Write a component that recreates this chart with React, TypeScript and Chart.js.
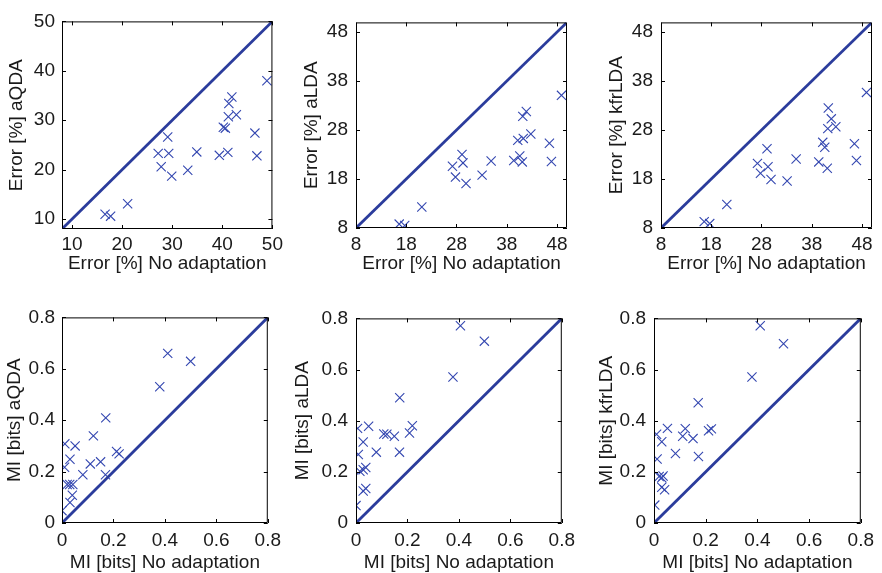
import React, { useEffect, useRef } from 'react';
import { Chart, registerables } from 'chart.js';
Chart.register(...registerables);

// ---- data ----
const errRange = [8, 50];
const miRange = [0, 0.8];
const errTicksA = [10, 20, 30, 40, 50];
const errTicksB = [8, 18, 28, 38, 48];
const miTicks = [0, 0.2, 0.4, 0.6, 0.8];

const errNoAdapt = [16.6, 17.7, 21.1, 27.2, 27.8, 29.1, 29.3, 29.9, 33.1, 34.9, 39.4, 40.2, 40.6, 41.1, 41.2, 41.3, 41.9, 42.8, 46.5, 46.9, 48.9];
const errAqda = [11.0, 10.6, 13.1, 23.3, 20.6, 26.6, 23.3, 18.7, 19.9, 23.6, 22.9, 28.6, 28.4, 23.5, 30.7, 33.4, 34.7, 31.1, 27.4, 22.8, 38.0];
const errAlda = [8.8, 8.5, 12.3, 20.6, 18.4, 23.0, 21.3, 17.1, 18.8, 21.7, 21.8, 25.9, 22.7, 21.5, 30.8, 26.3, 31.8, 27.2, 25.3, 21.6, 35.1];
const errKfrlda = [9.3, 8.9, 12.8, 21.2, 19.2, 24.2, 20.5, 17.9, 17.6, 22.1, 21.5, 25.5, 24.5, 20.2, 28.3, 32.5, 30.3, 28.7, 25.2, 21.8, 35.7];

const miNoAdaptQ = [0.411, 0.5, 0.38, 0.17, 0.122, 0.011, 0.051, 0.212, 0.222, 0.031, 0.11, 0.15, 0.01, 0.081, 0.169, 0.02, 0.03, 0.042, 0.04, 0.031, 0.0];
const miAqda = [0.66, 0.629, 0.53, 0.409, 0.339, 0.308, 0.3, 0.278, 0.269, 0.248, 0.23, 0.238, 0.217, 0.188, 0.188, 0.15, 0.15, 0.15, 0.108, 0.08, 0.048];
const miNoAdaptL = [0.406, 0.499, 0.377, 0.17, 0.049, 0.006, 0.219, 0.208, 0.108, 0.12, 0.149, 0.028, 0.009, 0.079, 0.169, 0.015, 0.028, 0.038, 0.028, 0.038, 0.0];
const miAlda = [0.771, 0.711, 0.571, 0.49, 0.378, 0.37, 0.38, 0.352, 0.348, 0.347, 0.339, 0.317, 0.268, 0.277, 0.277, 0.202, 0.208, 0.217, 0.125, 0.135, 0.068];
const miNoAdaptK = [0.411, 0.501, 0.379, 0.171, 0.052, 0.01, 0.121, 0.111, 0.151, 0.211, 0.222, 0.03, 0.012, 0.083, 0.172, 0.02, 0.03, 0.035, 0.03, 0.041, 0.003];
const miKfrlda = [0.771, 0.701, 0.571, 0.47, 0.37, 0.347, 0.369, 0.339, 0.33, 0.361, 0.368, 0.318, 0.25, 0.272, 0.26, 0.182, 0.177, 0.184, 0.14, 0.13, 0.07];

// ---- styling / layout ----
const FONT = "'Liberation Sans', Arial, Helvetica, sans-serif";
const FONT_SIZE = 19;
const TEXT_COLOR = '#1a1a1a';
const LINE_COLOR = '#2b3c9c';
const MARK_COLOR = '#3447b0';

type Box = { l: number; t: number; r: number; b: number };
type Spec = {
  xs: number[]; ys: number[]; range: number[]; ticks: number[];
  xTitle: string; yTitle: string; box: Box; yTitleCX: number; xTitleCY: number; xTickPad: number; yTickPad: number;
};

const specs: Spec[] = [
  { xs: errNoAdapt, ys: errAqda, range: errRange, ticks: errTicksA, xTitle: 'Error [%] No adaptation', yTitle: 'Error [%] aQDA',
    box: { l: 62, t: 17, r: 273, b: 229 }, yTitleCX: 17, xTitleCY: 264, xTickPad: 4, yTickPad: 7 },
  { xs: errNoAdapt, ys: errAlda, range: errRange, ticks: errTicksB, xTitle: 'Error [%] No adaptation', yTitle: 'Error [%] aLDA',
    box: { l: 356, t: 17, r: 567, b: 228 }, yTitleCX: 312, xTitleCY: 264, xTickPad: 5, yTickPad: 8 },
  { xs: errNoAdapt, ys: errKfrlda, range: errRange, ticks: errTicksB, xTitle: 'Error [%] No adaptation', yTitle: 'Error [%] kfrLDA',
    box: { l: 661, t: 17, r: 872, b: 228 }, yTitleCX: 617, xTitleCY: 264, xTickPad: 5, yTickPad: 8 },
  { xs: miNoAdaptQ, ys: miAqda, range: miRange, ticks: miTicks, xTitle: 'MI [bits] No adaptation', yTitle: 'MI [bits] aQDA',
    box: { l: 62, t: 313, r: 273, b: 523 }, yTitleCX: 15, xTitleCY: 563, xTickPad: 6, yTickPad: 7 },
  { xs: miNoAdaptL, ys: miAlda, range: miRange, ticks: miTicks, xTitle: 'MI [bits] No adaptation', yTitle: 'MI [bits] aLDA',
    box: { l: 356, t: 313, r: 567, b: 523 }, yTitleCX: 303, xTitleCY: 563, xTickPad: 6, yTickPad: 8 },
  { xs: miNoAdaptK, ys: miKfrlda, range: miRange, ticks: miTicks, xTitle: 'MI [bits] No adaptation', yTitle: 'MI [bits] kfrLDA',
    box: { l: 654, t: 313, r: 866, b: 523 }, yTitleCX: 607, xTitleCY: 563, xTickPad: 6, yTickPad: 8 },
];

const boxPlugin = {
  id: 'matlabBox',
  afterDatasetsDraw(chart: any) {
    const { ctx, chartArea } = chart;
    const { left, top, right, bottom } = chartArea;
    const xs = chart.scales.x;
    const ys = chart.scales.y;
    ctx.save();
    ctx.strokeStyle = '#000';
    ctx.lineWidth = 1;
    ctx.beginPath();
    ctx.rect(left + 0.5, top + 0.5, right - left - 1, bottom - top - 1);
    ctx.stroke();
    const tl = 4;
    ctx.beginPath();
    xs.ticks.forEach((t: any) => {
      const p = Math.round(xs.getPixelForValue(t.value)) + 0.5;
      ctx.moveTo(p, bottom); ctx.lineTo(p, bottom - tl);
      ctx.moveTo(p, top); ctx.lineTo(p, top + tl);
    });
    ys.ticks.forEach((t: any) => {
      const p = Math.round(ys.getPixelForValue(t.value)) + 0.5;
      ctx.moveTo(left, p); ctx.lineTo(left + tl, p);
      ctx.moveTo(right, p); ctx.lineTo(right - tl, p);
    });
    ctx.stroke();
    ctx.restore();
  },
};

function Panel({ spec }: { spec: Spec }) {
  const ref = useRef<HTMLCanvasElement | null>(null);
  const half = (FONT_SIZE * 1.2) / 2;
  const canvasLeft = Math.floor(spec.yTitleCX - half - 2);
  const padL = spec.yTitleCX - half - canvasLeft;
  const yAxisW = spec.box.l - canvasLeft - padL;
  const padT = 14;
  const canvasTop = spec.box.t - padT;
  const padR = 14;
  const canvasRight = spec.box.r + padR;
  const canvasBottom = Math.ceil(spec.xTitleCY + half + 2);
  const padB = canvasBottom - spec.xTitleCY - half;
  const xAxisH = canvasBottom - padB - spec.box.b;
  const w = canvasRight - canvasLeft;
  const h = canvasBottom - canvasTop;

  useEffect(() => {
    if (!ref.current) return;
    const font = { family: FONT, size: FONT_SIZE, lineHeight: 1.2 };
    const [mn, mx] = spec.range;
    const chart = new Chart(ref.current, {
      type: 'scatter',
      data: {
        datasets: [
          {
            type: 'line',
            data: [{ x: mn, y: mn }, { x: mx, y: mx }],
            borderColor: LINE_COLOR,
            borderWidth: 2.8,
            pointRadius: 0,
            fill: false,
          } as any,
          {
            type: 'scatter',
            data: spec.xs.map((x, i) => ({ x, y: spec.ys[i] })),
            pointStyle: 'crossRot',
            pointRadius: 6.5,
            borderColor: MARK_COLOR,
            backgroundColor: MARK_COLOR,
            borderWidth: 1.1,
          } as any,
        ],
      },
      options: {
        responsive: false,
        animation: false,
        devicePixelRatio: 1,
        events: [],
        layout: { padding: { left: padL, top: padT, right: padR, bottom: padB } },
        plugins: { legend: { display: false }, tooltip: { enabled: false } },
        scales: {
          x: {
            type: 'linear', min: mn, max: mx,
            afterBuildTicks: (s: any) => { s.ticks = spec.ticks.map((v) => ({ value: v })); },
            afterFit: (s: any) => { s.height = xAxisH; },
            ticks: { font, color: TEXT_COLOR, padding: spec.xTickPad, maxRotation: 0, autoSkip: false, callback: (v: any) => String(v) },
            grid: { display: false, drawTicks: false },
            border: { display: false },
            title: { display: true, text: spec.xTitle, font, color: TEXT_COLOR, padding: 0 },
          },
          y: {
            type: 'linear', min: mn, max: mx,
            afterBuildTicks: (s: any) => { s.ticks = spec.ticks.map((v) => ({ value: v })); },
            afterFit: (s: any) => { s.width = yAxisW; },
            ticks: { font, color: TEXT_COLOR, padding: spec.yTickPad, autoSkip: false, callback: (v: any) => String(v) },
            grid: { display: false, drawTicks: false },
            border: { display: false },
            title: { display: true, text: spec.yTitle, font, color: TEXT_COLOR, padding: 0 },
          },
        },
      } as any,
      plugins: [boxPlugin],
    });
    return () => chart.destroy();
  }, []);

  return (
    <canvas
      ref={ref}
      width={w}
      height={h}
      style={{ position: 'absolute', left: canvasLeft, top: canvasTop, width: w, height: h }}
    />
  );
}

export default function App() {
  return (
    <div style={{ position: 'absolute', left: 0, top: 0, width: 882, height: 573, overflow: 'hidden', background: '#fff' }}>
      {specs.map((s, i) => (
        <Panel key={i} spec={s} />
      ))}
    </div>
  );
}
